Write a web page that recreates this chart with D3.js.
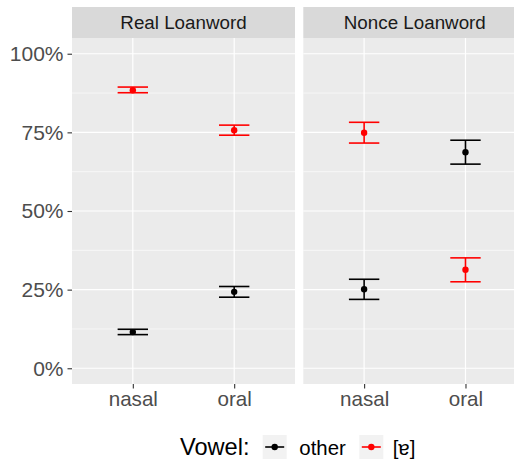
<!DOCTYPE html>
<html>
<head>
<meta charset="utf-8">
<script src="https://cdn.jsdelivr.net/npm/d3@7"></script>
<style>
  body { margin: 0; background: #fff; }
  svg { display: block; font-family: "Liberation Sans", Arial, sans-serif; }
</style>
</head>
<body>
<svg width="514" height="462"></svg>
<script>
// data, one entry per facet/context cell
var facets = ["Real Loanword", "Nonce Loanword"];
var contexts = ["nasal", "oral"];
var vowels = ["other", "[ɐ]"];
var rowFacet = ["Real Loanword", "Real Loanword", "Nonce Loanword", "Nonce Loanword"];
var rowContext = ["nasal", "oral", "nasal", "oral"];

var otherMean = [0.115, 0.243, 0.251, 0.687];
var otherLow  = [0.107, 0.226, 0.219, 0.649];
var otherHigh = [0.124, 0.260, 0.283, 0.725];

var schwaMean = [0.884, 0.757, 0.749, 0.313];
var schwaLow  = [0.876, 0.741, 0.716, 0.275];
var schwaHigh = [0.894, 0.773, 0.782, 0.351];

var yTicks = [0, 0.25, 0.5, 0.75, 1];
var yMinor = [0.125, 0.375, 0.625, 0.875];

var svg = d3.select("svg");
var colour = d3.scaleOrdinal().domain(vowels).range(["#000000", "#ff0000"]);

var panelTop = 38, panelBottom = 384, stripTop = 7;
var panelW = 223;
var facetX = d3.scaleOrdinal().domain(facets).range([72, 303.3]);

var y = d3.scaleLinear().domain([-0.05, 1.05]).range([panelBottom, panelTop]);

var points = [];
rowFacet.forEach(function(f, i) {
    points.push({facet: f, context: rowContext[i], vowel: vowels[0], mean: otherMean[i], lo: otherLow[i], hi: otherHigh[i]});
    points.push({facet: f, context: rowContext[i], vowel: vowels[1], mean: schwaMean[i], lo: schwaLow[i], hi: schwaHigh[i]});
});

facets.forEach(function(f) {
    var x0 = facetX(f);
    var x = d3.scalePoint().domain(contexts).range([x0, x0 + panelW]).padding(0.6);
    var g = svg.append("g");

    // strip
    g.append("rect")
        .attr("x", x0).attr("y", stripTop)
        .attr("width", panelW).attr("height", panelTop - stripTop)
        .attr("fill", "#d9d9d9");
    g.append("text")
        .attr("x", x0 + panelW / 2).attr("y", (stripTop + panelTop) / 2)
        .attr("dy", "0.36em")
        .attr("text-anchor", "middle")
        .attr("font-size", 18.8)
        .attr("fill", "#1a1a1a")
        .text(f);

    // panel background + grid
    g.append("rect")
        .attr("x", x0).attr("y", panelTop)
        .attr("width", panelW).attr("height", panelBottom - panelTop)
        .attr("fill", "#ebebeb");
    g.selectAll(".minor").data(yMinor).enter().append("line")
        .attr("x1", x0).attr("x2", x0 + panelW)
        .attr("y1", function(d) { return y(d); })
        .attr("y2", function(d) { return y(d); })
        .attr("stroke", "#fff").attr("stroke-width", 0.6);
    g.selectAll(".major").data(yTicks).enter().append("line")
        .attr("x1", x0).attr("x2", x0 + panelW)
        .attr("y1", function(d) { return y(d); })
        .attr("y2", function(d) { return y(d); })
        .attr("stroke", "#fff").attr("stroke-width", 1.2);
    g.selectAll(".vmajor").data(contexts).enter().append("line")
        .attr("x1", function(d) { return x(d); })
        .attr("x2", function(d) { return x(d); })
        .attr("y1", panelTop).attr("y2", panelBottom)
        .attr("stroke", "#fff").attr("stroke-width", 1.2);

    // x axis
    var xAxis = g.append("g")
        .attr("transform", "translate(0," + panelBottom + ")")
        .call(d3.axisBottom(x).tickSize(4.5).tickPadding(3));
    xAxis.select(".domain").remove();
    xAxis.selectAll("line").attr("stroke", "#333").attr("stroke-width", 1.1);
    xAxis.selectAll("text").attr("font-size", 20.6).attr("fill", "#4d4d4d")
        .attr("font-family", "Liberation Sans, Arial, sans-serif");

    // error bars + points
    var pts = points.filter(function(p) { return p.facet === f; });
    var capW = 0.3 * x.step();
    var eb = g.selectAll(".eb").data(pts).enter().append("g")
        .attr("stroke", function(d) { return colour(d.vowel); })
        .attr("stroke-width", 1.6);
    eb.append("line")
        .attr("x1", function(d) { return x(d.context); })
        .attr("x2", function(d) { return x(d.context); })
        .attr("y1", function(d) { return y(d.lo); })
        .attr("y2", function(d) { return y(d.hi); });
    eb.append("line")
        .attr("x1", function(d) { return x(d.context) - capW / 2; })
        .attr("x2", function(d) { return x(d.context) + capW / 2; })
        .attr("y1", function(d) { return y(d.lo); })
        .attr("y2", function(d) { return y(d.lo); });
    eb.append("line")
        .attr("x1", function(d) { return x(d.context) - capW / 2; })
        .attr("x2", function(d) { return x(d.context) + capW / 2; })
        .attr("y1", function(d) { return y(d.hi); })
        .attr("y2", function(d) { return y(d.hi); });
    g.selectAll(".pt").data(pts).enter().append("circle")
        .attr("cx", function(d) { return x(d.context); })
        .attr("cy", function(d) { return y(d.mean); })
        .attr("r", 3.2)
        .attr("fill", function(d) { return colour(d.vowel); });
});

// y axis
var yAxis = svg.append("g")
    .attr("transform", "translate(72,0)")
    .call(d3.axisLeft(y).tickValues(yTicks).tickFormat(d3.format(".0%")).tickSize(4.5).tickPadding(4));
yAxis.select(".domain").remove();
yAxis.selectAll("line").attr("stroke", "#333").attr("stroke-width", 1.1);
yAxis.selectAll("text").attr("font-size", 21).attr("fill", "#4d4d4d")
    .attr("font-family", "Liberation Sans, Arial, sans-serif");

// legend
var legY = 447;
var leg = svg.append("g");
leg.append("text")
    .attr("x", 180).attr("y", 455)
    .attr("font-size", 23.6)
    .text("Vowel:");
var keyX = [262.7, 359.3];
var labX = [299.3, 392.7];
vowels.forEach(function(v, i) {
    leg.append("rect")
        .attr("x", keyX[i]).attr("y", legY - 12)
        .attr("width", 24).attr("height", 24)
        .attr("fill", "#f2f2f2");
    leg.append("line")
        .attr("x1", keyX[i] + 2.5).attr("x2", keyX[i] + 21.5)
        .attr("y1", legY).attr("y2", legY)
        .attr("stroke", colour(v)).attr("stroke-width", 1.6);
    leg.append("circle")
        .attr("cx", keyX[i] + 12).attr("cy", legY).attr("r", 3.2)
        .attr("fill", colour(v));
    leg.append("text")
        .attr("x", labX[i]).attr("y", 455)
        .attr("font-size", 20.4)
        .text(v);
});
</script>
</body>
</html>
